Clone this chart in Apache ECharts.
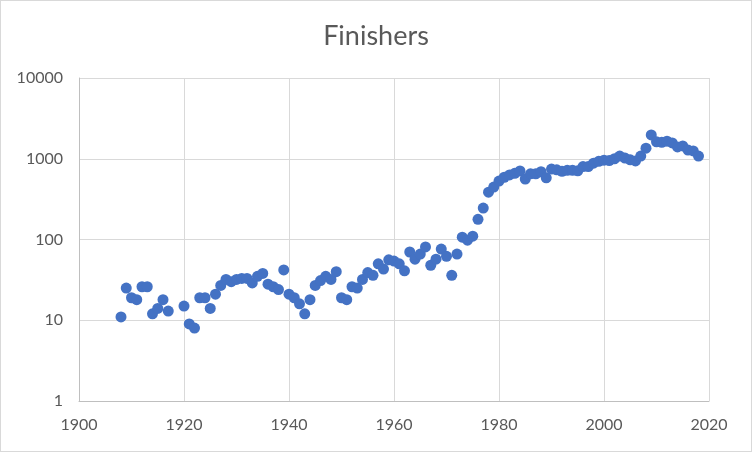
<!DOCTYPE html>
<html>
<head>
<meta charset="utf-8">
<script src="https://cdn.jsdelivr.net/npm/echarts@6/dist/echarts.min.js"></script>
<style>
  html, body { margin: 0; padding: 0; background: #fff; }
  #wrap { position: relative; width: 752px; height: 452px; }
  #chart { width: 752px; height: 452px; }
  #frame { position: absolute; left: 0; top: 0; width: 752px; height: 452px; box-sizing: border-box; border: 1px solid #D9D9D9; pointer-events: none; }
</style>
</head>
<body>
<div id="wrap"><div id="chart"></div><div id="frame"></div></div>
<script>
const titleText = "Finishers";
const years = [
  1908, 1909, 1910, 1911, 1912, 1913, 1914, 1915, 1916, 1917,
  1920, 1921, 1922, 1923, 1924, 1925, 1926, 1927, 1928, 1929,
  1930, 1931, 1932, 1933, 1934, 1935, 1936, 1937, 1938, 1939,
  1940, 1941, 1942, 1943, 1944, 1945, 1946, 1947, 1948, 1949,
  1950, 1951, 1952, 1953, 1954, 1955, 1956, 1957, 1958, 1959,
  1960, 1961, 1962, 1963, 1964, 1965, 1966, 1967, 1968, 1969,
  1970, 1971, 1972, 1973, 1974, 1975, 1976, 1977, 1978, 1979,
  1980, 1981, 1982, 1983, 1984, 1985, 1986, 1987, 1988, 1989,
  1990, 1991, 1992, 1993, 1994, 1995, 1996, 1997, 1998, 1999,
  2000, 2001, 2002, 2003, 2004, 2005, 2006, 2007, 2008, 2009,
  2010, 2011, 2012, 2013, 2014, 2015, 2016, 2017, 2018
];
const finishers = [
  11, 25, 19, 18, 26, 26, 12, 14, 18, 13,
  15, 9, 8, 19, 19, 14, 21, 27, 32, 30,
  32, 33, 33, 29, 35, 38, 28, 26, 24, 42,
  21, 19, 16, 12, 18, 27, 31, 35, 32, 40,
  19, 18, 26, 25, 32, 39, 36, 50, 43, 56,
  54, 50, 41, 70, 57, 66, 81, 48, 57, 76,
  62, 36, 66, 107, 98, 110, 178, 245, 385, 446,
  530, 590, 630, 660, 705, 560, 650, 650, 690, 580,
  745, 730, 700, 720, 720, 710, 800, 800, 880, 930,
  960, 950, 1000, 1080, 1020, 970, 940, 1080, 1350, 1970,
  1620, 1600, 1650, 1570, 1400, 1440, 1280, 1250, 1080
];
const xMin = 1900, xMax = 2020, xStep = 20;
const yMin = 1, yMax = 10000;

const points = years.map((y, i) => [y, finishers[i]]);
const fontFam = "Lato, 'Open Sans', 'Noto Sans', sans-serif";

const chart = echarts.init(document.getElementById('chart'), null, { renderer: 'canvas' });
chart.setOption({
  backgroundColor: '#ffffff',
  animation: false,
  title: {
    text: titleText,
    left: 'center',
    top: 18,
    textStyle: { color: '#595959', fontSize: 27, fontWeight: 'normal', fontFamily: fontFam }
  },
  grid: { left: 79, right: 43, top: 78, bottom: 51, containLabel: false },
  xAxis: {
    type: 'value',
    min: xMin, max: xMax, interval: xStep,
    axisLine: { show: true, onZero: false, lineStyle: { color: '#BFBFBF', width: 1 } },
    axisTick: { show: false },
    splitLine: { show: true, lineStyle: { color: '#D9D9D9', width: 1 } },
    axisLabel: {
      color: '#595959', fontSize: 16, fontFamily: fontFam, margin: 16,
      formatter: v => String(v)
    }
  },
  yAxis: {
    type: 'log', logBase: 10,
    min: yMin, max: yMax,
    axisLine: { show: true, lineStyle: { color: '#BFBFBF', width: 1 } },
    axisTick: { show: false },
    splitLine: { show: true, lineStyle: { color: '#D9D9D9', width: 1 } },
    axisLabel: {
      color: '#595959', fontSize: 16, fontFamily: fontFam, margin: 16,
      formatter: v => String(Math.round(v))
    }
  },
  series: [{
    type: 'scatter',
    data: points,
    symbol: 'circle',
    symbolSize: 11,
    itemStyle: { color: '#4472C4', opacity: 1 }
  }]
});
</script>
</body>
</html>
